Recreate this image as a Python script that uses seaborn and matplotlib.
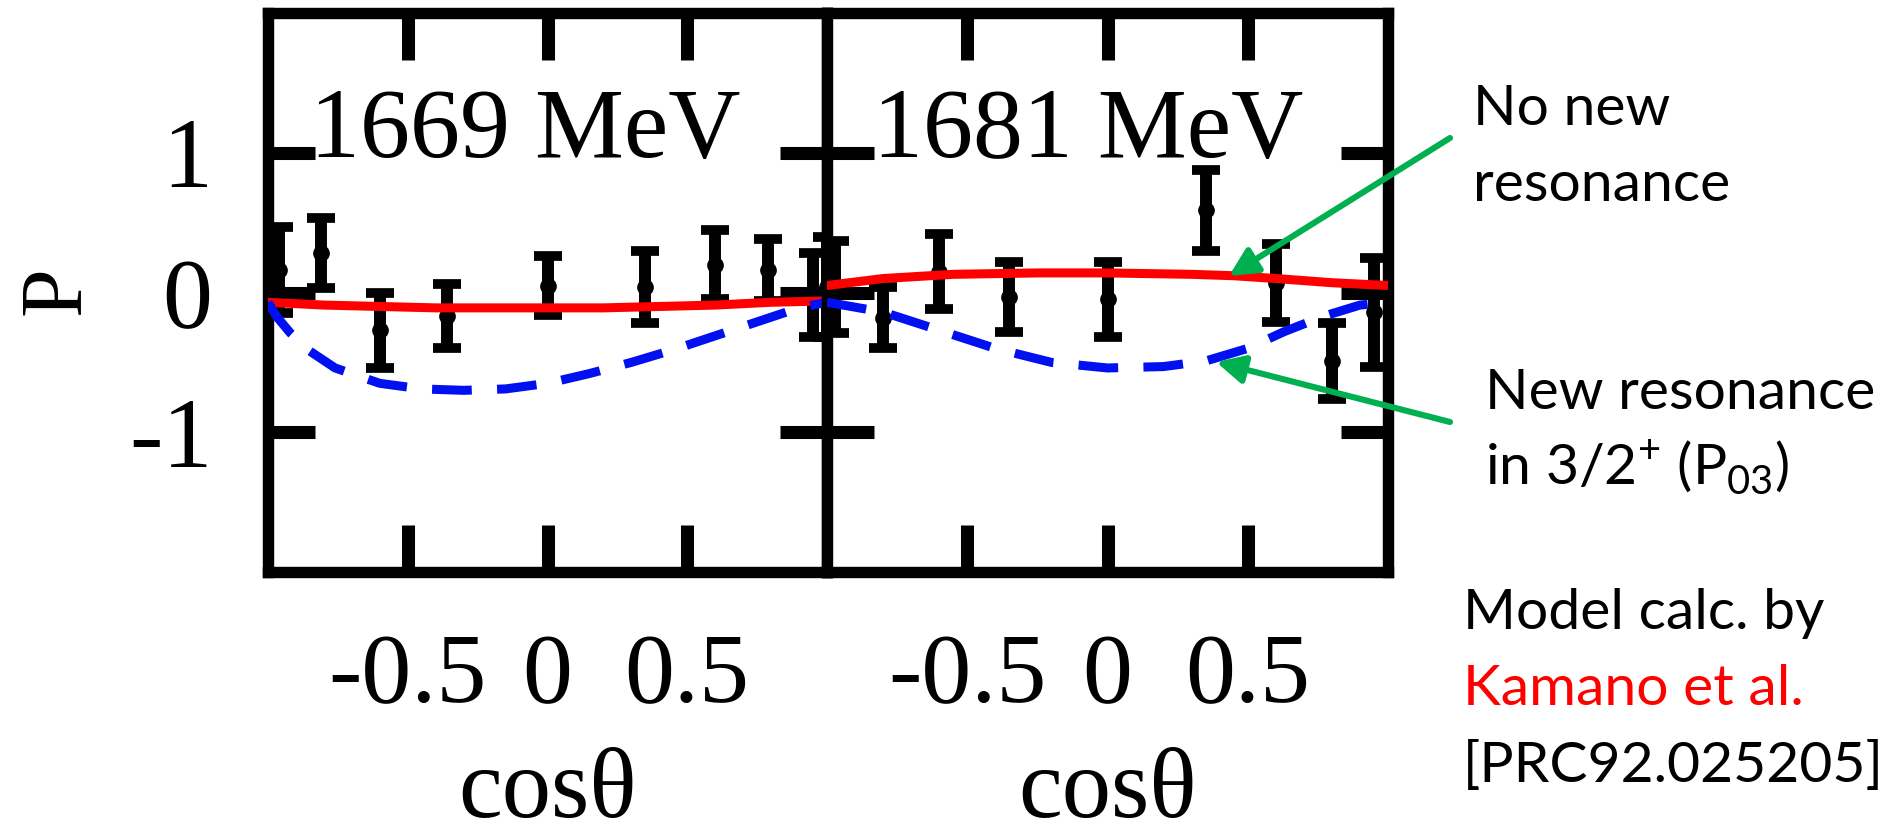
import matplotlib
matplotlib.use("Agg")
import matplotlib.pyplot as plt
import pandas as pd
import seaborn as sns

# ---- measured beam-target polarization P versus cos(theta) ----
cos_1669 = [-0.96, -0.81, -0.60, -0.36, 0.00, 0.35, 0.60, 0.79, 0.95, 1.00]
p_1669 = [0.16, 0.28, -0.27, -0.17, 0.05, 0.04, 0.20, 0.16, -0.02, 0.04]
err_1669 = [0.31, 0.25, 0.27, 0.23, 0.21, 0.26, 0.25, 0.22, 0.30, 0.36]

cos_1681 = [-0.97, -0.80, -0.60, -0.35, 0.00, 0.35, 0.60, 0.80, 0.95]
p_1681 = [0.04, -0.18, 0.15, -0.03, -0.05, 0.59, 0.07, -0.49, -0.14]
err_1681 = [0.33, 0.22, 0.27, 0.25, 0.27, 0.29, 0.28, 0.27, 0.39]

# ---- model curves: without (red) and with (blue) the extra 3/2+ state ----
red_x_1669 = [-1.0, -0.8, -0.6, -0.4, -0.2, 0.0, 0.2, 0.4, 0.6, 0.8, 1.0]
red_y_1669 = [-0.07, -0.09, -0.10, -0.11, -0.11, -0.11, -0.11, -0.10, -0.09, -0.07, -0.06]
blue_x_1669 = [-1.0, -0.97, -0.92, -0.85, -0.76, -0.6, -0.45, -0.3, -0.15, 0.0,
               0.15, 0.3, 0.45, 0.6, 0.75, 0.9, 1.0]
blue_y_1669 = [-0.07, -0.17, -0.29, -0.42, -0.54, -0.65, -0.69, -0.70, -0.69, -0.65,
               -0.58, -0.50, -0.41, -0.31, -0.21, -0.11, -0.07]

red_x_1681 = [-1.0, -0.8, -0.55, -0.25, 0.0, 0.3, 0.45, 0.6, 0.8, 1.0]
red_y_1681 = [0.05, 0.10, 0.13, 0.14, 0.14, 0.13, 0.12, 0.10, 0.07, 0.05]
blue_x_1681 = [-1.0, -0.8, -0.6, -0.4, -0.2, 0.0, 0.2, 0.35, 0.5, 0.63, 0.77, 0.9, 1.0]
blue_y_1681 = [-0.07, -0.14, -0.27, -0.40, -0.50, -0.54, -0.53, -0.49, -0.40,
               -0.28, -0.17, -0.09, -0.07]

panel_titles = ["1669 MeV", "1681 MeV"]
x_ticks = [-0.5, 0.0, 0.5]
x_tick_labels = ["-0.5", "0", "0.5"]
y_ticks = [-1, 0, 1]
y_tick_labels = ["-1", "0", "1"]

sns.set_theme(style="ticks")
plt.rcParams["font.family"] = ["Liberation Serif", "DejaVu Serif"]
plt.rcParams["axes.unicode_minus"] = False
plt.rcParams["mathtext.fontset"] = "custom"
plt.rcParams["mathtext.rm"] = "Lato"

W, H = 1901, 838
fig = plt.figure(figsize=(W / 100, H / 100), dpi=100, facecolor="white")


def box(x0, x1, y0, y1):
    return [x0 / W, 1 - y1 / H, (x1 - x0) / W, (y1 - y0) / H]


def fpos(x, y):
    return (x / W, 1 - y / H)


ax1 = fig.add_axes(box(268, 827, 13, 572))
ax2 = fig.add_axes(box(827, 1388, 13, 572))

panels = [
    (ax1, cos_1669, p_1669, err_1669, red_x_1669, red_y_1669, blue_x_1669, blue_y_1669, -0.079),
    (ax2, cos_1681, p_1681, err_1681, red_x_1681, red_y_1681, blue_x_1681, blue_y_1681, -0.069),
]

for i, (ax, cx, py, pe, rx, ry, bx, by, tx) in enumerate(panels):
    ax.set_facecolor("white")
    cont = ax.errorbar(cx, py, yerr=pe, fmt="o", color="black", ms=11,
                       elinewidth=8.6, capsize=10, capthick=7, zorder=3)
    for art in [cont[0], *cont[1], *cont[2]]:
        art.set_clip_on(False)

    model = pd.DataFrame({"cos": rx, "P": ry})
    sns.lineplot(data=model, x="cos", y="P", ax=ax, color="#ff0000",
                 linewidth=6.5, zorder=5, sort=False)
    model_new = pd.DataFrame({"cos": bx, "P": by})
    sns.lineplot(data=model_new, x="cos", y="P", ax=ax, color="#0010f0",
                 linewidth=6.5, linestyle=(0, (4.4, 2.8)), zorder=5, sort=False)

    ax.set_xlim(-1, 1)
    ax.set_ylim(-2, 2)
    ax.set_xticks(x_ticks)
    ax.set_xticklabels(x_tick_labels)
    ax.set_yticks(y_ticks)
    ax.set_yticklabels(y_tick_labels)
    ax.tick_params(which="major", direction="in", length=34, width=9.4,
                   color="black", top=True, bottom=True, left=True, right=True,
                   labelsize=72, labelcolor="black")
    ax.tick_params(axis="x", pad=44)
    ax.tick_params(axis="y", pad=40)
    for s in ax.spines.values():
        s.set_linewidth(8.2)
        s.set_color("black")

    ax.set_xlabel("cosθ", fontsize=71, color="black")
    ax.xaxis.label.set_va("baseline")
    ax.xaxis.set_label_coords(0.5, -0.438)
    ax.set_ylabel("")

    ax.text(tx, 0.97, panel_titles[i], fontsize=72, ha="center",
            va="baseline", color="black", zorder=6)

ax2.tick_params(labelleft=False)
ax1.set_ylabel("P", fontsize=63, rotation=90, va="center", ha="center", color="black")
ax1.yaxis.set_label_coords(-0.377, 0.503)

# ---- explanatory notes and arrows on the right ----
green = "#00B050"
note_kw = dict(family=["Lato", "DejaVu Sans"], fontsize=41, ha="left", va="baseline")
fig.text(*fpos(1473, 125), "No new", color="black", **note_kw)
fig.text(*fpos(1473, 201), "resonance", color="black", **note_kw)
fig.text(*fpos(1485, 409), "New resonance", color="black", **note_kw)
fig.text(*fpos(1485, 485), r"in 3/2$^{\mathregular{+}}$ (P$_{\mathregular{03}}$)",
         color="black", **note_kw)
fig.text(*fpos(1463, 629), "Model calc. by", color="black", **note_kw)
fig.text(*fpos(1463, 705), "Kamano et al.", color="#ff0000", **note_kw)
fig.text(*fpos(1463, 782), "[PRC92.025205]", color="black", **note_kw)

arrow_kw = dict(arrowstyle="-|>", color=green, lw=4.4, mutation_scale=42,
                shrinkA=0, shrinkB=0)
ax2.annotate("", xy=(0.433, 0.118), xycoords="data",
             xytext=fpos(1450, 138), textcoords="figure fraction",
             arrowprops=arrow_kw, annotation_clip=False, zorder=10)
ax2.annotate("", xy=(0.387, -0.497), xycoords="data",
             xytext=fpos(1450, 422), textcoords="figure fraction",
             arrowprops=arrow_kw, annotation_clip=False, zorder=10)

fig.savefig("out.png", dpi=100, facecolor="white")
